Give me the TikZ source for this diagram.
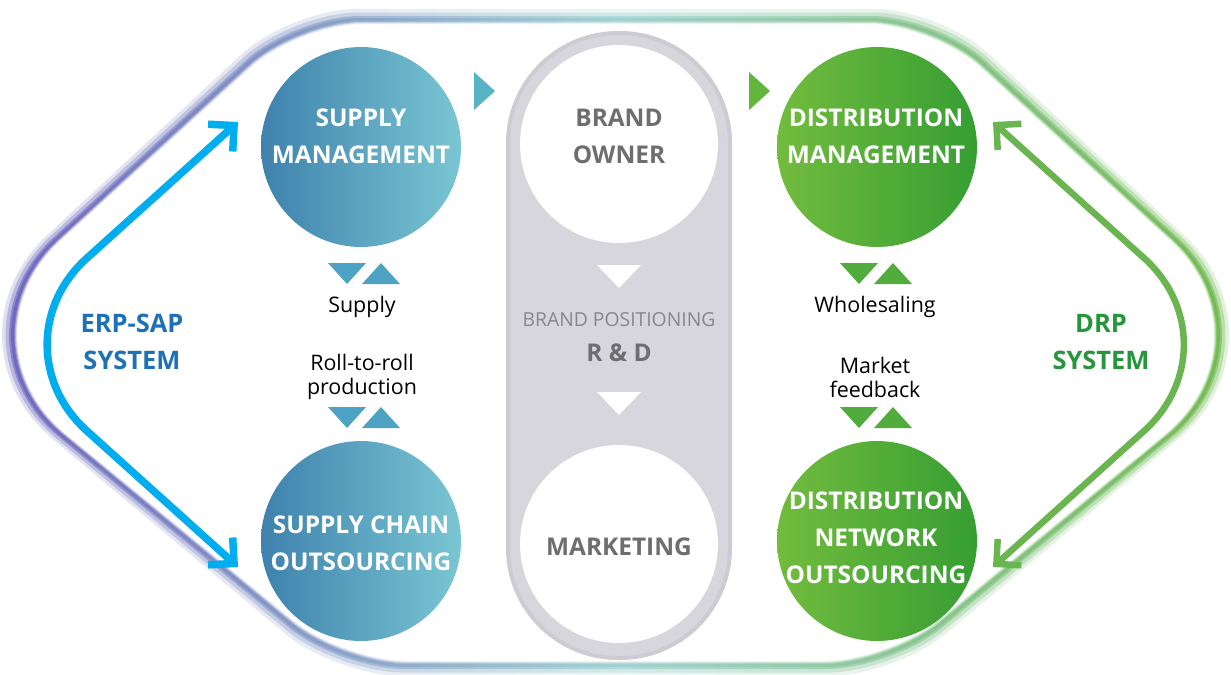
\documentclass[tikz,border=0pt]{standalone}
\usepackage{fontspec}
\setmainfont{Open Sans}
\usetikzlibrary{arrows.meta}
\usetikzlibrary{positioning}

\definecolor{erpblue}{RGB}{0,173,239}
\definecolor{erptext}{RGB}{30,112,183}
\definecolor{drpgreen}{RGB}{106,181,80}
\definecolor{drptext}{RGB}{38,150,60}
\definecolor{steelL}{RGB}{62,130,173}
\definecolor{steelR}{RGB}{122,198,211}
\definecolor{leafL}{RGB}{114,188,62}
\definecolor{leafR}{RGB}{54,158,50}
\definecolor{pairblue}{RGB}{78,163,196}
\definecolor{pairgreen}{RGB}{80,172,60}
\definecolor{tealtip}{RGB}{88,180,196}
\definecolor{greentip}{RGB}{98,182,60}
\definecolor{capfill}{RGB}{214,214,220}
\definecolor{capedge}{RGB}{204,204,210}
\definecolor{brandgray}{RGB}{110,110,112}
\definecolor{posgray}{RGB}{135,135,140}
\definecolor{ringL}{RGB}{92,82,182}
\definecolor{ringM}{RGB}{150,205,205}
\definecolor{ringR}{RGB}{96,178,56}

% frame point, scaled about the middle by #1 (x) and #2 (y)
\newcommand{\fpp}[4]{({616+(#3-616)*#1},{342+(#4-342)*#2})}
\newcommand{\framepath}[2]{\fpp{#1}{#2}{616}{20} -- \fpp{#1}{#2}{870}{20}
 .. controls \fpp{#1}{#2}{905.9}{20} and \fpp{#1}{#2}{956.5}{39.7} .. \fpp{#1}{#2}{983}{64}
 -- \fpp{#1}{#2}{1174}{239}
 .. controls \fpp{#1}{#2}{1235}{295} and \fpp{#1}{#2}{1232}{383.5} .. \fpp{#1}{#2}{1168}{436}
 -- \fpp{#1}{#2}{940}{624}
 .. controls \fpp{#1}{#2}{912.4}{646.8} and \fpp{#1}{#2}{860.9}{665} .. \fpp{#1}{#2}{825}{665}
 -- \fpp{#1}{#2}{406}{665}
 .. controls \fpp{#1}{#2}{370.1}{665} and \fpp{#1}{#2}{318.6}{646.8} .. \fpp{#1}{#2}{291}{624}
 -- \fpp{#1}{#2}{63}{436}
 .. controls \fpp{#1}{#2}{-1}{383.5} and \fpp{#1}{#2}{-4}{295} .. \fpp{#1}{#2}{57}{239}
 -- \fpp{#1}{#2}{248}{64}
 .. controls \fpp{#1}{#2}{274.5}{39.7} and \fpp{#1}{#2}{325.1}{20} .. \fpp{#1}{#2}{361}{20}
 -- cycle}

\begin{document}
\begin{tikzpicture}[x=0.02cm,y=-0.02cm,
  ring/.style={even odd rule,left color=ringL,right color=ringR,middle color=ringM},
  capsule/.style={fill=capfill,draw=capedge,line width=0.08cm,rounded corners=2.2cm},
  bluecirc/.style={circle,minimum size=4cm,inner sep=0pt,left color=steelL,right color=steelR},
  greencirc/.style={circle,minimum size=4cm,inner sep=0pt,left color=leafL,right color=leafR},
  whitecirc/.style={circle,minimum size=3.96cm,inner sep=0pt,fill=white},
  circtext/.style={text=white,font=\fontsize{13.9}{21}\selectfont\bfseries,align=center},
  graytext/.style={text=brandgray,font=\fontsize{13.9}{21}\selectfont\bfseries,align=center},
  postext/.style={text=posgray,font=\fontsize{11}{13}\selectfont,align=center},
  smalltext/.style={text=black,font=\fontsize{12.2}{13.7}\selectfont,align=center},
  systext/.style={font=\fontsize{14.5}{21}\selectfont\bfseries,align=center},
  erparrow/.style={draw=erpblue,line width=0.15cm,{Straight Barb[angle=90:0.52cm]}-{Straight Barb[angle=90:0.52cm]}},
  drparrow/.style={draw=drpgreen,line width=0.13cm,{Straight Barb[angle=90:0.5cm]}-{Straight Barb[angle=90:0.5cm]}}]
\fill[white] (0,0) rectangle (1231,674);
\useasboundingbox (0,0) rectangle (1231,674);

\shade[ring,opacity=0.18] \framepath{1.0182}{1.0342} \framepath{0.99339}{0.98758};
\shade[ring,opacity=0.3] \framepath{1.0124}{1.0233} \framepath{0.99504}{0.99068};
\shade[ring,opacity=0.5] \framepath{1.00662}{1.01242} \framepath{0.99669}{0.99379};
\shade[ring,opacity=0.6] \framepath{1.00331}{1.00621} \framepath{0.99835}{0.9969};

\draw[capsule] (508,33) rectangle (730,658);

\node[bluecirc] (sm) at (361,147) {};
\node[bluecirc] (sco) at (361,541) {};
\node[greencirc] (dm) at (877,147) {};
\node[greencirc] (dno) at (877,541) {};
\node[whitecirc] (bo) at (619,144) {};
\node[whitecirc] (mk) at (619,544) {};

\node[circtext] (smt) at (361,136) {SUPPLY\\MANAGEMENT};
\node[circtext] (scot) at (361,543) {SUPPLY CHAIN\\OUTSOURCING};
\node[circtext] (dmt) at (876,136) {DISTRIBUTION\\MANAGEMENT};
\node[circtext] (dnot) at (876,538) {DISTRIBUTION\\NETWORK\\OUTSOURCING};
\node[graytext] (bot) at (619,136) {BRAND\\OWNER};
\node[graytext] (mkt) at (619,547) {MARKETING};
\node[postext] (bp) at (619,320) {BRAND POSITIONING};
\node[graytext] (rd) at (619,353) {R \& D};

\draw[fill=white,draw=none] (597,265) -- (641,265) -- (619,288) -- cycle;
\draw[fill=white,draw=none] (597,392) -- (641,392) -- (619,415) -- cycle;

\draw[fill=pairblue,draw=none] (328,263) -- (366,263) -- (347,284) -- cycle;
\draw[fill=pairblue,draw=none] (362,284) -- (400,284) -- (381,263) -- cycle;
\draw[fill=pairblue,draw=none] (328,407) -- (366,407) -- (347,428) -- cycle;
\draw[fill=pairblue,draw=none] (362,428) -- (400,428) -- (381,407) -- cycle;
\draw[fill=pairgreen,draw=none] (840,263) -- (878,263) -- (859,284) -- cycle;
\draw[fill=pairgreen,draw=none] (874,284) -- (912,284) -- (893,263) -- cycle;
\draw[fill=pairgreen,draw=none] (840,407) -- (878,407) -- (859,428) -- cycle;
\draw[fill=pairgreen,draw=none] (874,428) -- (912,428) -- (893,407) -- cycle;

\draw[fill=tealtip,draw=none] (474,72) -- (474,110) -- (495,91) -- cycle;
\draw[fill=greentip,draw=none] (749,72) -- (749,110) -- (770,91) -- cycle;

\node[smalltext] (sup) at (362,307) {Supply};
\node[smalltext] (rtr) at (362,377) {Roll-to-roll\\production};
\node[smalltext] (whs) at (875,307) {Wholesaling};
\node[smalltext] (mfb) at (875,377) {Market\\feedback};

\node[systext,text=erptext] (erp) at (132,342) {ERP-SAP\\SYSTEM};
\node[systext,text=drptext] (drp) at (1101,342) {DRP\\SYSTEM};

\coordinate (erpT) at (238,122);
\coordinate (erpU) at (86.8,258.2);
\coordinate (erpD) at (86.8,430.8);
\coordinate (erpB) at (238,567);
\draw[erparrow] (erpT) -- (erpU) .. controls (33.9,305.9) and (33.9,383.1) .. (erpD) -- (erpB);
\coordinate (drpT) at (993,122);
\coordinate (drpU) at (1144.2,258.2);
\coordinate (drpD) at (1144.2,430.8);
\coordinate (drpB) at (993,567);
\draw[drparrow] (drpT) -- (drpU) .. controls (1197.1,305.9) and (1197.1,383.1) .. (drpD) -- (drpB);

\end{tikzpicture}
\end{document}
